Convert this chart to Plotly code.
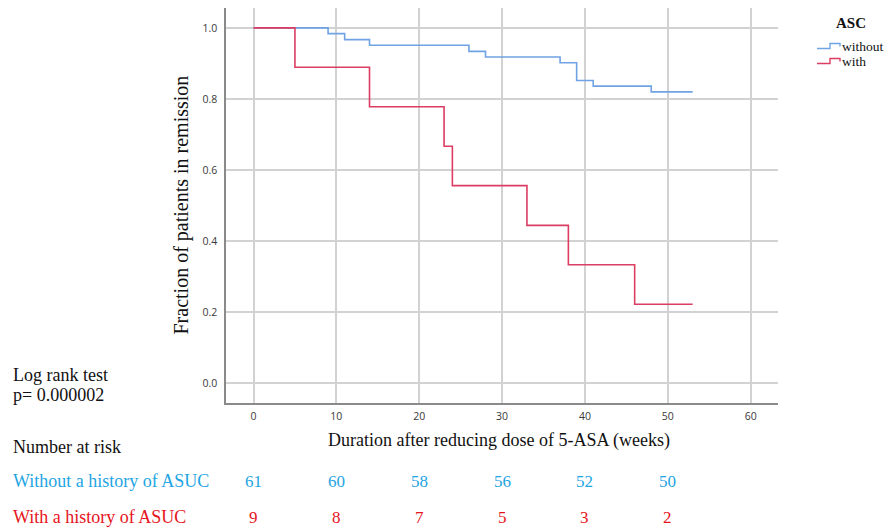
import plotly.graph_objects as go

# Kaplan-Meier step data (weeks, fraction in remission)
without_weeks = [0, 9, 11, 14, 26, 28, 37, 39, 41, 48, 53]
without_frac = [1.0, 0.984, 0.967, 0.951, 0.934, 0.918, 0.902, 0.852, 0.836, 0.820, 0.820]
with_weeks = [0, 5, 14, 23, 24, 33, 38, 46, 53]
with_frac = [1.0, 0.889, 0.778, 0.667, 0.556, 0.444, 0.333, 0.222, 0.222]

risk_weeks = [0, 10, 20, 30, 40, 50]
risk_without = [61, 60, 58, 56, 52, 50]
risk_with = [9, 8, 7, 5, 3, 2]

BLUE_LINE = "#6fa3e4"
RED_LINE = "#dc3d63"
BLUE_TXT = "#1ea5e3"
RED_TXT = "#e6141c"
SERIF = "Liberation Serif"

W, H = 890, 529
L, R, T, B = 226, 778, 8, 403  # plot area pixels


def px(xp):
    return (xp - L) / (R - L)


def py(yp):
    return (B - yp) / (B - T)


fig = go.Figure()
fig.add_trace(go.Scatter(x=without_weeks, y=without_frac, mode="lines", line_shape="hv",
                         line=dict(color=BLUE_LINE, width=1.6), name="without", showlegend=False))
fig.add_trace(go.Scatter(x=with_weeks, y=with_frac, mode="lines", line_shape="hv",
                         line=dict(color=RED_LINE, width=1.6), name="with", showlegend=False))

ann = []
# axis titles
ann.append(dict(text="Fraction of patients in remission", x=px(181), y=0.5, xref="paper", yref="paper",
                textangle=-90, showarrow=False, font=dict(family=SERIF, size=20, color="#111"),
                xanchor="center", yanchor="middle"))
ann.append(dict(text="Duration after reducing dose of 5-ASA (weeks)", x=px(499), y=py(440),
                xref="paper", yref="paper", showarrow=False,
                font=dict(family=SERIF, size=18, color="#111"), xanchor="center", yanchor="middle"))
# left texts
left_texts = [("Log rank test", 375, "#111"), ("p= 0.000002", 395, "#111"),
              ("Number at risk", 447, "#111"),
              ("Without a history of ASUC", 481, BLUE_TXT),
              ("With a history of ASUC", 517, RED_TXT)]
for t, yy, c in left_texts:
    ann.append(dict(text=t, x=px(11), y=py(yy), xref="paper", yref="paper", showarrow=False,
                    font=dict(family=SERIF, size=18, color=c), xanchor="left", yanchor="middle"))
# numbers at risk
for wk, n in zip(risk_weeks, risk_without):
    ann.append(dict(text=str(n), x=wk, y=py(481), xref="x", yref="paper", showarrow=False,
                    font=dict(family=SERIF, size=17, color=BLUE_TXT), xanchor="center", yanchor="middle"))
for wk, n in zip(risk_weeks, risk_with):
    ann.append(dict(text=str(n), x=wk, y=py(517), xref="x", yref="paper", showarrow=False,
                    font=dict(family=SERIF, size=17, color=RED_TXT), xanchor="center", yanchor="middle"))
# legend (manual)
ann.append(dict(text="<b>ASC</b>", x=px(851), y=py(23), xref="paper", yref="paper", showarrow=False,
                font=dict(family=SERIF, size=15, color="#111"), xanchor="center", yanchor="middle"))
ann.append(dict(text="without", x=px(840), y=py(47), xref="paper", yref="paper", showarrow=False,
                font=dict(family=SERIF, size=13.5, color="#111"), xanchor="left", yanchor="middle"))
ann.append(dict(text="with", x=px(840), y=py(62), xref="paper", yref="paper", showarrow=False,
                font=dict(family=SERIF, size=13.5, color="#111"), xanchor="left", yanchor="middle"))

shapes = []
for ybase, col in [(48.5, BLUE_LINE), (63.5, RED_LINE)]:
    path = (f"M {px(817)},{py(ybase)} L {px(830)},{py(ybase)} L {px(830)},{py(ybase-5)} "
            f"L {px(840)},{py(ybase-5)} L {px(840)},{py(ybase-2)}")
    shapes.append(dict(type="path", path=path, xref="paper", yref="paper",
                       line=dict(color=col, width=1.4)))

tickfont = dict(family="Open Sans", size=10.5, color="#3a3a3a")
fig.update_layout(
    width=W, height=H,
    margin=dict(l=L, r=W - R, t=T, b=H - B),
    paper_bgcolor="white", plot_bgcolor="white",
    annotations=ann, shapes=shapes, showlegend=False,
    xaxis=dict(range=[-3.32, 63.3], tickvals=[0, 10, 20, 30, 40, 50, 60], showgrid=True,
               gridcolor="#d2d2d2", gridwidth=1.5, zeroline=False, showline=True,
               linecolor="#8a8a8a", linewidth=1.5, ticks="outside", ticklen=3,
               tickcolor="rgba(0,0,0,0)", tickfont=tickfont, fixedrange=True),
    yaxis=dict(range=[-0.056, 1.056], tickvals=[0, 0.2, 0.4, 0.6, 0.8, 1.0], tickformat=".1f",
               showgrid=True, gridcolor="#d2d2d2", gridwidth=1.5, zeroline=False, showline=True,
               linecolor="#8a8a8a", linewidth=1.5, ticks="outside", ticklen=5,
               tickcolor="rgba(0,0,0,0)", tickfont=tickfont, fixedrange=True),
)

fig.write_html("out.html", config={"displayModeBar": False},
               post_script="document.body.style.margin='0px';document.body.style.overflow='hidden';")
